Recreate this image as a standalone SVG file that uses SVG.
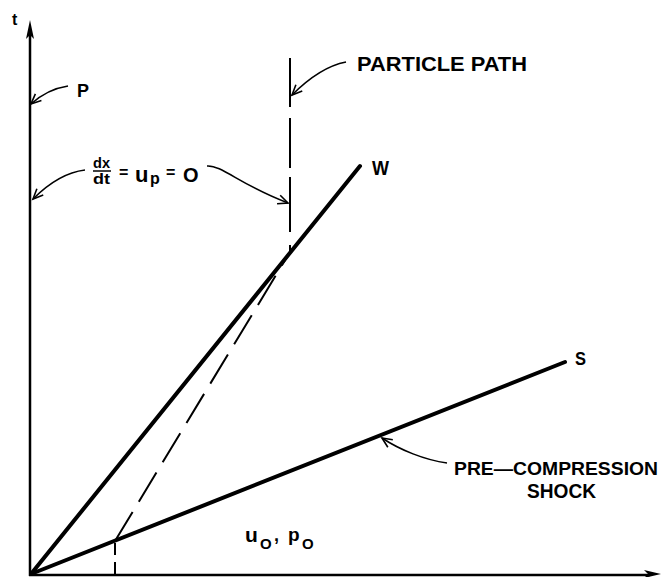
<svg xmlns="http://www.w3.org/2000/svg" width="666" height="577" viewBox="0 0 666 577">
<style>
.axis{stroke:#000;stroke-width:2.5;fill:none}
.thick{stroke:#000;stroke-width:4;fill:none;stroke-linecap:round}
.dash{stroke:#000;stroke-width:2;fill:none}
.lead{stroke:#000;stroke-width:1.6;fill:none;marker-end:url(#open)}
.lbl{font-family:"Liberation Sans",Arial,sans-serif;font-weight:bold;fill:#000}
</style>
<defs>
<marker id="open" markerUnits="userSpaceOnUse" markerWidth="16" markerHeight="12" refX="12" refY="6" orient="auto" viewBox="0 0 16 12">
<path d="M2,1.5 L12,6 L2,10.5" fill="none" stroke="#000" stroke-width="1.6"/>
</marker>
</defs>
<rect width="666" height="577" fill="#fff"/>

<g id="t-axis">
<line class="axis" x1="30" y1="576" x2="30" y2="30"/>
<polygon points="30,20 34,39 30,35 26,39" fill="#000"/>
<text class="lbl" x="12" y="25" font-size="16">t</text>
</g>

<g id="x-axis">
<line class="axis" x1="29" y1="575" x2="650" y2="575"/>
<polygon points="661,574 644,570 648,574 644,578" fill="#000"/>
</g>

<g id="wave-W">
<line class="thick" x1="31" y1="574" x2="360" y2="166"/>
<text class="lbl" x="372" y="175" font-size="20" textLength="17" lengthAdjust="spacingAndGlyphs">W</text>
</g>

<g id="shock-S">
<line class="thick" x1="31" y1="574" x2="565" y2="362"/>
<text class="lbl" x="575" y="365" font-size="18" textLength="11" lengthAdjust="spacingAndGlyphs">S</text>
</g>

<g id="particle-path">
<path class="dash" d="M290,58 V107 M290,118 V168 M290,177 V232 M290,245 V252"/>
<path class="dash" d="M115,541 L290,252" stroke-dasharray="34 12"/>
<path class="dash" d="M115,543 V555 M115,562 V575"/>
</g>

<g id="label-P">
<text class="lbl" x="77" y="97" font-size="19" textLength="12" lengthAdjust="spacingAndGlyphs">P</text>
</g>

<g id="label-particle-path">
<text class="lbl" x="357" y="71" font-size="21" textLength="170" lengthAdjust="spacingAndGlyphs">PARTICLE PATH</text>
</g>

<g id="label-velocity">
<text class="lbl" x="93" y="168" font-size="15" textLength="17" lengthAdjust="spacingAndGlyphs">dx</text>
<line x1="93" y1="171" x2="111" y2="171" stroke="#000" stroke-width="1.5"/>
<text class="lbl" x="93" y="184" font-size="15" textLength="17" lengthAdjust="spacingAndGlyphs">dt</text>
<text class="lbl" x="119" y="178" font-size="16">=</text>
<text class="lbl" x="135" y="182" font-size="22">u</text>
<text class="lbl" x="150" y="184" font-size="16">p</text>
<text class="lbl" x="166" y="178" font-size="16">=</text>
<text class="lbl" x="183" y="182" font-size="20">O</text>
</g>

<g id="label-shock">
<text class="lbl" x="454" y="475" font-size="19" textLength="204" lengthAdjust="spacingAndGlyphs">PRE—COMPRESSION</text>
<text class="lbl" x="527" y="498" font-size="20" textLength="69" lengthAdjust="spacingAndGlyphs">SHOCK</text>
</g>

<g id="label-state">
<text class="lbl" x="245" y="542" font-size="21">u</text>
<text class="lbl" x="260" y="549" font-size="15">O</text>
<text class="lbl" x="274" y="541" font-size="18">,</text>
<text class="lbl" x="288" y="541" font-size="19">p</text>
<text class="lbl" x="302" y="549" font-size="15">O</text>
</g>

<g id="connectors">
<path class="lead" d="M68,86 C55,88 42,94 31,104"/>
<path class="lead" d="M85,170 C68,172 50,182 33,199"/>
<path class="lead" d="M207,166 C222,165 240,185 288,203"/>
<path class="lead" d="M346,62 C325,66 305,82 292,95"/>
<path class="lead" d="M447,463 C425,460 400,450 382,438"/>
</g>
</svg>
